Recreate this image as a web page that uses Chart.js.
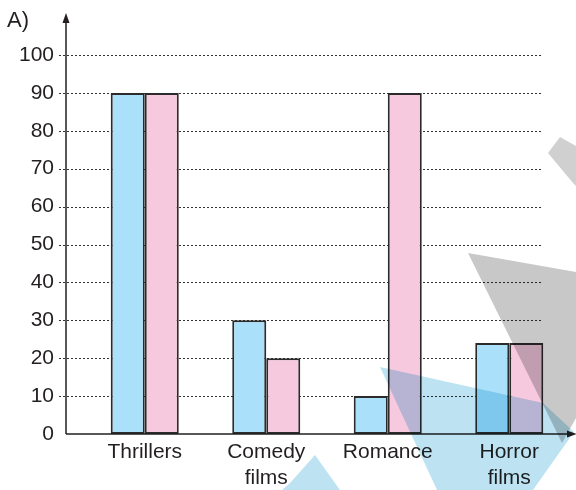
<!DOCTYPE html>
<html>
<head>
<meta charset="utf-8">
<script src="https://cdn.jsdelivr.net/npm/chart.js@4.4.0/dist/chart.umd.min.js"></script>
<style>
  html, body { margin: 0; padding: 0; background: #fff; }
  canvas { display: block; }
</style>
</head>
<body>
<canvas id="chart" width="576" height="490"></canvas>
<script>
// chart data
const categories = ['Thrillers', ['Comedy', 'films'], 'Romance', ['Horror', 'films']];
const blueValues = [90, 30, 10, 24];
const pinkValues = [90, 20, 90, 24];
const yTicks = [0, 10, 20, 30, 40, 50, 60, 70, 80, 90, 100];

const FONT = 'Arial, "Liberation Sans", sans-serif';
const INK = '#231f20';

// axis lines with arrows + dotted guide lines + the "A)" label
const decorPlugin = {
  id: 'decor',
  beforeDatasetsDraw(chart) {
    const ctx = chart.ctx;
    const y = chart.scales.y;
    const axisX = chart.chartArea.left - 18;
    ctx.save();
    ctx.strokeStyle = '#333';
    ctx.lineWidth = 1;
    ctx.setLineDash([2, 2]);
    yTicks.forEach(v => {
      if (v === 0) return;
      const py = Math.round(y.getPixelForValue(v)) + 0.5;
      ctx.beginPath();
      ctx.moveTo(axisX - 7, py);
      ctx.lineTo(541, py);
      ctx.stroke();
    });
    ctx.restore();
  },
  afterDatasetsDraw(chart) {
    const ctx = chart.ctx;
    const y = chart.scales.y;
    const axisX = chart.chartArea.left - 18;
    const zeroY = y.getPixelForValue(0);
    ctx.save();
    ctx.strokeStyle = INK;
    ctx.fillStyle = INK;
    ctx.lineWidth = 1.5;
    // y axis
    ctx.beginPath();
    ctx.moveTo(axisX, zeroY);
    ctx.lineTo(axisX, 20);
    ctx.stroke();
    ctx.beginPath();
    ctx.moveTo(axisX, 13);
    ctx.lineTo(axisX - 3.5, 23);
    ctx.lineTo(axisX + 3.5, 23);
    ctx.closePath();
    ctx.fill();
    // x axis
    ctx.beginPath();
    ctx.moveTo(axisX, zeroY);
    ctx.lineTo(569, zeroY);
    ctx.stroke();
    ctx.beginPath();
    ctx.moveTo(577, zeroY);
    ctx.lineTo(567, zeroY - 3.5);
    ctx.lineTo(567, zeroY + 3.5);
    ctx.closePath();
    ctx.fill();
    // panel label
    ctx.font = '22px ' + FONT;
    ctx.textAlign = 'left';
    ctx.textBaseline = 'alphabetic';
    ctx.fillText('A)', 7, 27);
    ctx.restore();
  },
  afterDraw(chart) {
    // faint watermark shapes laid over the picture
    const ctx = chart.ctx;
    const shapes = [
      { color: '#c8c8c8', pts: [[468, 253], [576, 272], [576, 418], [562, 443]] },
      { color: '#d0d0d0', pts: [[548, 153], [560, 137], [576, 146], [576, 186], [573, 183]] },
      { color: '#bde3f2', pts: [[380, 367], [543, 403], [574, 432], [533, 490], [437, 490]] },
      { color: '#bde3f2', pts: [[315, 455], [340, 490], [282, 490], [290, 483]] }
    ];
    ctx.save();
    ctx.globalCompositeOperation = 'multiply';
    shapes.forEach(s => {
      ctx.fillStyle = s.color;
      ctx.beginPath();
      s.pts.forEach((p, i) => i ? ctx.lineTo(p[0], p[1]) : ctx.moveTo(p[0], p[1]));
      ctx.closePath();
      ctx.fill();
    });
    ctx.restore();
  }
};

new Chart(document.getElementById('chart'), {
  type: 'bar',
  data: {
    labels: categories,
    datasets: [
      {
        data: blueValues,
        backgroundColor: '#aae0fa',
        borderColor: '#2b2b2b',
        borderWidth: 2,
        borderSkipped: false
      },
      {
        data: pinkValues,
        backgroundColor: '#f7c9df',
        borderColor: '#2b2b2b',
        borderWidth: 2,
        borderSkipped: false
      }
    ]
  },
  options: {
    responsive: false,
    animation: false,
    events: [],
    layout: { padding: { left: 0, right: 6, top: 55, bottom: 0 } },
    plugins: {
      legend: { display: false },
      tooltip: { enabled: false }
    },
    datasets: {
      bar: { categoryPercentage: 0.56, barPercentage: 1 }
    },
    scales: {
      x: {
        grid: { display: false, drawTicks: false },
        border: { display: false },
        ticks: {
          color: INK,
          font: { family: FONT, size: 21, lineHeight: 1.2 },
          padding: 6,
          maxRotation: 0,
          autoSkip: false
        },
        afterFit(scale) { scale.height = 56; }
      },
      y: {
        min: 0,
        max: 100,
        grid: { display: false, drawTicks: false },
        border: { display: false },
        afterBuildTicks(scale) { scale.ticks = yTicks.map(v => ({ value: v })); },
        ticks: {
          color: INK,
          font: { family: FONT, size: 21 },
          padding: 30
        },
        afterFit(scale) { scale.width = 84; }
      }
    }
  },
  plugins: [decorPlugin]
});
</script>
</body>
</html>
